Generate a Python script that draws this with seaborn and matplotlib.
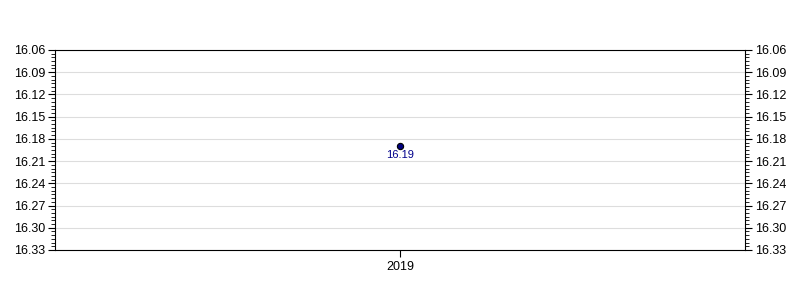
import matplotlib
matplotlib.use("Agg")
import matplotlib.pyplot as plt
import seaborn as sns
import pandas as pd
from matplotlib.ticker import MultipleLocator, FormatStrFormatter

years = ["2019"]
values = [16.19]
y_ticks = [16.06, 16.09, 16.12, 16.15, 16.18, 16.21, 16.24, 16.27, 16.30, 16.33]

sns.set_style("white")
plt.rcParams['font.family'] = ['Liberation Sans', 'DejaVu Sans']

df = pd.DataFrame({"year": years, "value": values})

fig = plt.figure(figsize=(8, 3), dpi=100)
ax = fig.add_axes([0.06875, 0.1667, 0.8625, 0.6667])

sns.pointplot(data=df, x="year", y="value", ax=ax, color="#000080",
              markers="o", linestyles="none", markersize=4.5,
              markeredgecolor="black", markeredgewidth=0.8, errorbar=None)

for i, v in enumerate(values):
    ax.annotate(f"{v:.2f}", (i, v), xytext=(0, -3), textcoords="offset points",
                ha="center", va="top", fontsize=8, color="#00008B")

ax.set_xlim(-0.5, 0.5)
ax.set_ylim(y_ticks[-1], y_ticks[0])
ax.set_yticks(y_ticks)
ax.yaxis.set_major_formatter(FormatStrFormatter("%.2f"))
ax.yaxis.set_minor_locator(MultipleLocator(0.005))
ax.grid(axis="y", which="major", color="#dddddd", linewidth=0.8)
ax.set_axisbelow(True)
ax.set_xlabel("")
ax.set_ylabel("")

for s in ax.spines.values():
    s.set_visible(True)
    s.set_color("black")
    s.set_linewidth(0.8)

ax.tick_params(axis="y", which="major", left=True, right=True, labelleft=True,
               labelright=True, length=5, width=0.8, labelsize=9, labelcolor="black",
               color="black", direction="out", pad=2)
ax.tick_params(axis="y", which="minor", left=True, right=True, length=3, width=0.6,
               color="black", direction="out")
ax.tick_params(axis="x", which="major", bottom=True, top=False, length=5, width=0.8,
               labelsize=9, labelcolor="black", color="black", direction="out", pad=3)

fig.savefig("out.png", dpi=100)
